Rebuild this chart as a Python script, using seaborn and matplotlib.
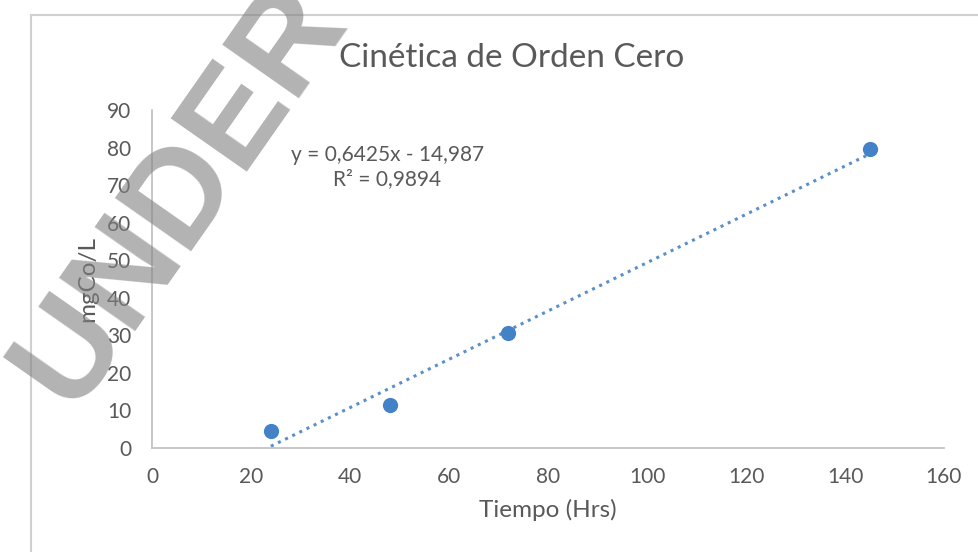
import numpy as np
import matplotlib
matplotlib.use("Agg")
import matplotlib.pyplot as plt
import seaborn as sns

# data
tiempo = [24, 48, 72, 145]
conc = [4.5, 11.5, 30.5, 79.5]
x_ticks = [0, 20, 40, 60, 80, 100, 120, 140, 160]
y_ticks = [0, 10, 20, 30, 40, 50, 60, 70, 80, 90]
eq_text = "y = 0,6425x - 14,987\nR² = 0,9894"

TEXT_GREY = "#595959"
BLUE = "#4482C8"

sns.set_style("white")
plt.rcParams["font.family"] = ["Lato", "DejaVu Sans"]

fig = plt.figure(figsize=[9.79, 5.52], dpi=100)
ax = fig.add_axes([0.1553, 0.1884, 0.8089, 0.6123])

# linear trendline fitted on the points
slope, intercept = np.polyfit(tiempo, conc, 1)
trend_x = np.array([min(tiempo), max(tiempo)])
ax.plot(trend_x, slope * trend_x + intercept, color="#5B8FC9",
        linestyle=(0, (1, 1.6)), linewidth=2.2, zorder=2)

sns.scatterplot(x=tiempo, y=conc, ax=ax, color=BLUE, s=120,
                edgecolor=BLUE, linewidth=0, zorder=3)

ax.set_xlim(0, 160)
ax.set_ylim(0, 90)
ax.set_xticks(x_ticks)
ax.set_yticks(y_ticks)
ax.tick_params(axis="both", colors="#BFBFBF", labelcolor=TEXT_GREY,
               labelsize=15, length=5, width=1, direction="out")
ax.tick_params(axis="x", pad=9)
ax.tick_params(axis="y", pad=10)
for side in ["top", "right"]:
    ax.spines[side].set_visible(False)
for side in ["left", "bottom"]:
    ax.spines[side].set_color("#BFBFBF")
    ax.spines[side].set_linewidth(1.2)

ax.set_xlabel("Tiempo (Hrs)", fontsize=17.5, color=TEXT_GREY, labelpad=8)
ax.set_ylabel("mgCo/L", fontsize=17.5, color=TEXT_GREY, labelpad=6)
fig.text(0.523, 0.895, "Cinética de Orden Cero", fontsize=24,
         color=TEXT_GREY, ha="center", va="center")

ax.text(47.5, 80.6, eq_text, fontsize=15, color=TEXT_GREY,
        ha="center", va="top", linespacing=1.25)

# chart frame
fig.add_artist(plt.Rectangle((31 / 979, -0.1), 1.1, 1 - 15 / 552 + 0.1,
                             transform=fig.transFigure, fill=False,
                             edgecolor="#D0D0D0", linewidth=1.5))

# watermark
fig.text(72 / 979, 1 - 410 / 552, "UNDER", fontsize=97,
         family="Liberation Sans", weight="bold", color="#808080", alpha=0.6,
         rotation=55, rotation_mode="anchor", ha="left", va="baseline",
         zorder=10)

fig.savefig("out.png", dpi=100)
